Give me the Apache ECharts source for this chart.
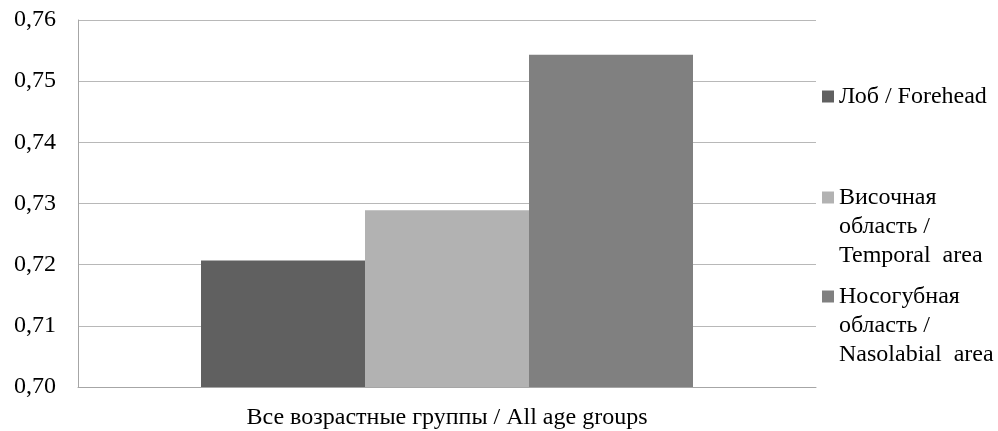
<!DOCTYPE html>
<html>
<head>
<meta charset="utf-8">
<script src="https://cdn.jsdelivr.net/npm/echarts@6/dist/echarts.min.js"></script>
<style>
  html, body { margin: 0; padding: 0; background: #fff; }
  #chart { width: 998px; height: 431px; }
</style>
</head>
<body>
<div id="chart"></div>
<script>
// данные
const categories = ['Все возрастные группы / All age groups'];
const seriesNames = ['Лоб / Forehead', 'Височная\nобласть /\nTemporal  area', 'Носогубная\nобласть /\nNasolabial  area'];
const foreheadValues = [0.7207];
const temporalValues = [0.7289];
const nasolabialValues = [0.7543];
const yTicks = ['0,70', '0,71', '0,72', '0,73', '0,74', '0,75', '0,76'];

const colors = ['#606060', '#b2b2b2', '#808080'];
const font = 'Liberation Serif';
const fontSize = 24;
const lineH = 29;

const chart = echarts.init(document.getElementById('chart'));

// по легенде на пункт: значок стоит у первой строки текста
const legendTops = [82, 183, 282];
const legends = seriesNames.map((name, i) => {
  const lines = name.split('\n').length;
  const h = 12 + (lines - 1) * lineH;
  return {
    orient: 'vertical',
    left: 822,
    top: legendTops[i],
    padding: 0,
    itemWidth: 12,
    itemHeight: h,
    selectedMode: false,
    // квадрат сверху, пустая точка внизу растягивает рамку значка
    icon: 'path://M0,0L12,0L12,12L0,12Z M0,' + h + 'L0,' + h,
    itemStyle: { borderWidth: 0 },
    textStyle: {
      fontFamily: font,
      fontSize: fontSize,
      color: '#000',
      lineHeight: lineH,
    },
    data: [name],
  };
});

const option = {
  animation: false,
  backgroundColor: '#fff',
  textStyle: { fontFamily: font },
  grid: { left: 78, right: 182, top: 20, bottom: 44 },
  legend: legends,
  xAxis: {
    type: 'category',
    data: categories,
    axisLine: { lineStyle: { color: '#a6a6a6', width: 1 } },
    axisTick: { show: false },
    axisLabel: {
      color: '#000',
      fontFamily: font,
      fontSize: fontSize,
      margin: 19,
    },
  },
  yAxis: {
    type: 'value',
    min: 0.70,
    max: 0.76,
    interval: 0.01,
    axisLine: { show: true, lineStyle: { color: '#a6a6a6', width: 1 } },
    axisTick: { show: false },
    splitLine: { lineStyle: { color: '#b8b8b8', width: 1 } },
    axisLabel: {
      color: '#000',
      fontFamily: font,
      fontSize: fontSize,
      margin: 22,
      formatter: function(v) {
        const idx = Math.round((v - 0.70) * 100);
        return yTicks[idx] !== undefined ? yTicks[idx] : v.toFixed(2).replace('.', ',');
      },
    },
  },
  series: [
    { name: seriesNames[0], type: 'bar', data: foreheadValues, barWidth: 164, barGap: '0%', itemStyle: { color: colors[0] } },
    { name: seriesNames[1], type: 'bar', data: temporalValues, barWidth: 164, barGap: '0%', itemStyle: { color: colors[1] } },
    { name: seriesNames[2], type: 'bar', data: nasolabialValues, barWidth: 164, barGap: '0%', itemStyle: { color: colors[2] } },
  ],
};
chart.setOption(option);
</script>
</body>
</html>
